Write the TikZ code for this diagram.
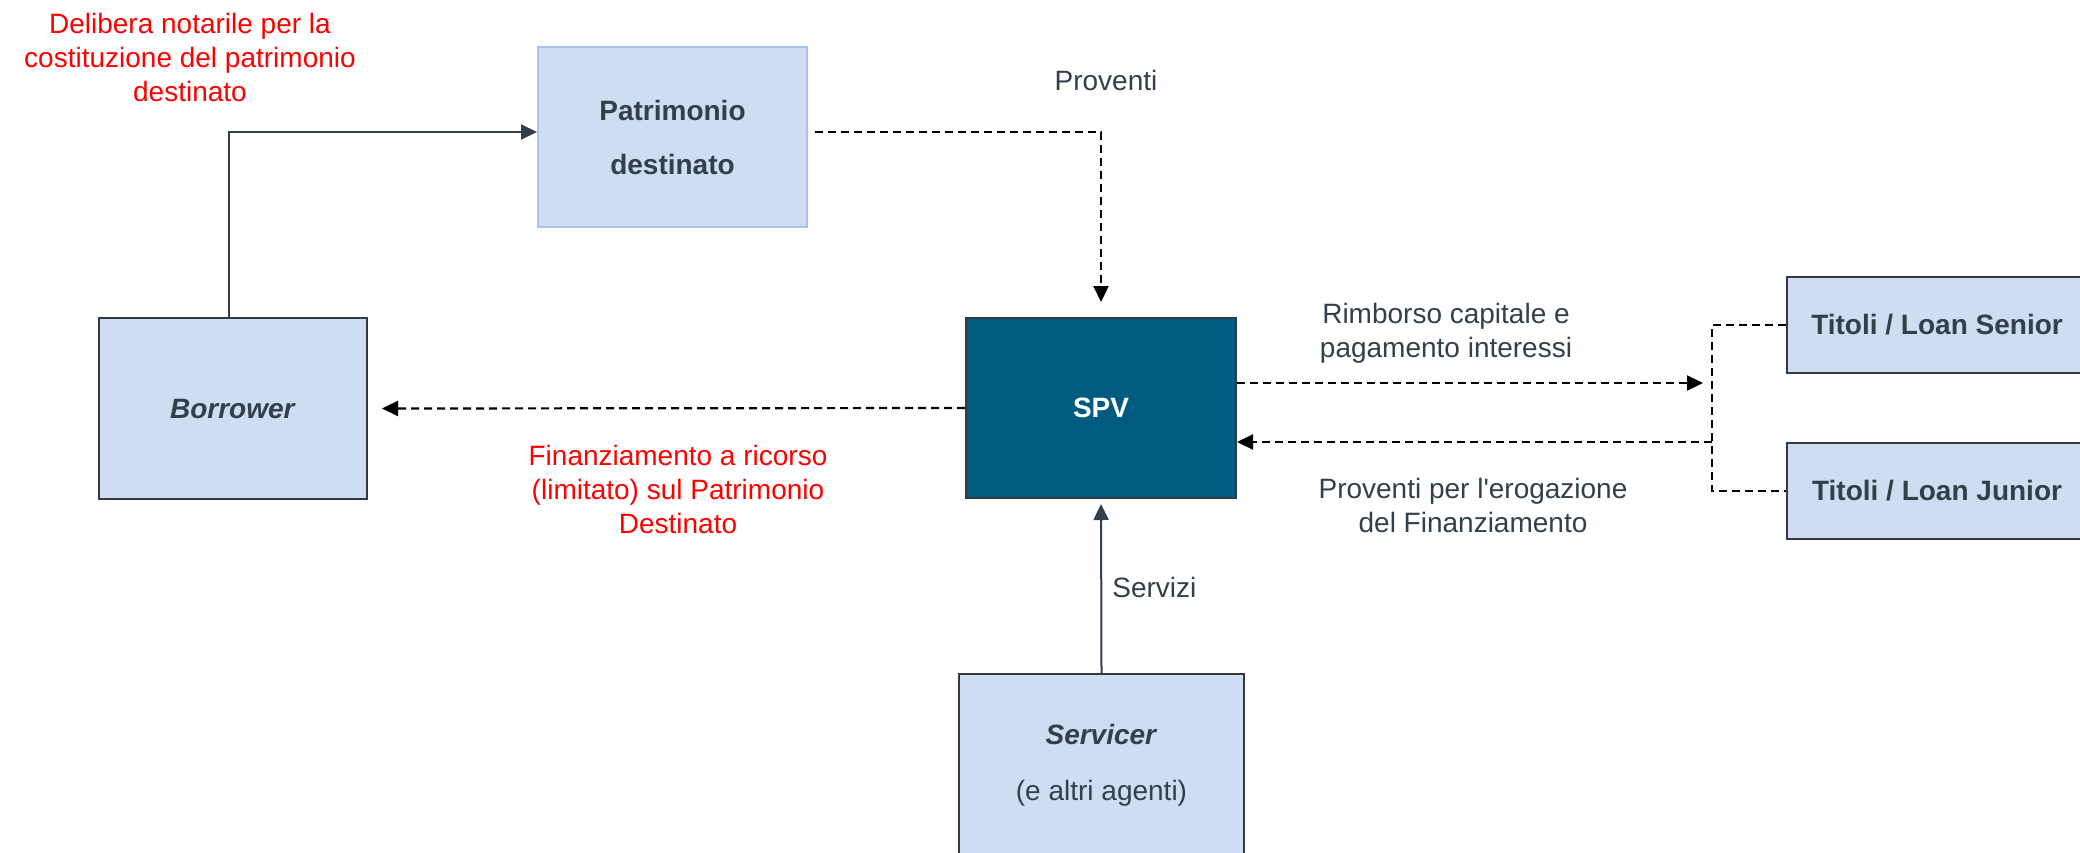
\documentclass[tikz,border=0pt]{standalone}
\usepackage{fontspec}
\setmainfont{Liberation Sans}[Ligatures=TeXOff]
\usetikzlibrary{arrows.meta}
\definecolor{boxfill}{HTML}{CFDDF3}
\definecolor{boxline}{HTML}{36393D}
\definecolor{txt}{HTML}{333F4A}
\definecolor{spvfill}{HTML}{005B81}
\definecolor{patline}{HTML}{A9C4EB}
\definecolor{redtxt}{HTML}{FF0000}
\begin{document}
\begin{tikzpicture}[x=0.5pt,y=-0.5pt,
  every node/.style={font=\fontsize{14}{17}\selectfont, text=txt, inner sep=0pt, align=center},
  entity/.style={rectangle, draw=boxline, fill=boxfill, line width=1pt},
  lbl/.style={text=txt},
  redlbl/.style={text=redtxt},
  conn/.style={draw=txt, line width=1pt, -{Triangle[length=8pt,width=7.5pt]}},
  dconn/.style={draw=black, line width=1.1pt, dash pattern=on 4pt off 2.5pt, -{Triangle[length=8pt,width=7.5pt]}},
  dline/.style={draw=black, line width=1.1pt, dash pattern=on 4pt off 2.5pt}
]
\useasboundingbox (0,0) rectangle (2080,852);
\clip (0,0) rectangle (2080,852);

% boxes
\node[entity, draw=patline, minimum width=134.5pt, minimum height=90pt] (pat) at (672.5,137)
  {\textbf{Patrimonio}\\[10pt]\textbf{destinato}};
\node[entity, minimum width=134pt, minimum height=90.5pt] (bor) at (233,408.5)
  {\textbf{\textit{Borrower}}};
\node[entity, fill=spvfill, minimum width=135pt, minimum height=90pt, text=white] (spv) at (1101,408)
  {\textbf{SPV}};
\node[entity, minimum width=142.5pt, minimum height=91pt] (ser) at (1101.5,765)
  {\textbf{\textit{Servicer}}\\[11pt](e altri agenti)};
\node[entity, minimum width=150pt, minimum height=48pt] (sen) at (1937,325)
  {\textbf{Titoli / Loan Senior}};
\node[entity, minimum width=150pt, minimum height=48pt] (jun) at (1937,491)
  {\textbf{Titoli / Loan Junior}};

% helper coordinates
\coordinate (bus) at (1712,408);
\coordinate (r1) at (1703,383);
\coordinate (l1) at (1712,442);

% connectors
\draw[conn] (bor.north -| 229,0) |- ([yshift=2.5pt]pat.west);
\draw[dconn, shorten <=3.5pt, shorten >=7.5pt] ([yshift=2.5pt]pat.east) -| (spv.north);
\draw[dconn, shorten >=7pt] (spv.west) -- (bor.east);
\draw[dconn] (spv.east |- r1) -- (r1);
\draw[dconn] (l1) -- (spv.east |- l1);
\draw[dline] (sen.west) -| (bus) |- (jun.west);
\draw[conn, shorten >=2.5pt] (ser.north) -- (spv.south);

% labels
\node[lbl] (lprov) at (1106,80) {Proventi};
\node[lbl] (lrimb) at (1446,333) {Rimborso capitale e\\pagamento interessi};
\node[lbl] (lerog) at (1473,505) {Proventi per l'erogazione\\del Finanziamento};
\node[lbl, anchor=west] (lserv) at (1112,587) {Servizi};
\node[redlbl] (ldel) at (190,57) {Delibera notarile per la\\costituzione del patrimonio\\destinato};
\node[redlbl] (lfin) at (678,489) {Finanziamento a ricorso\\(limitato) sul Patrimonio\\Destinato};
\end{tikzpicture}
\end{document}
